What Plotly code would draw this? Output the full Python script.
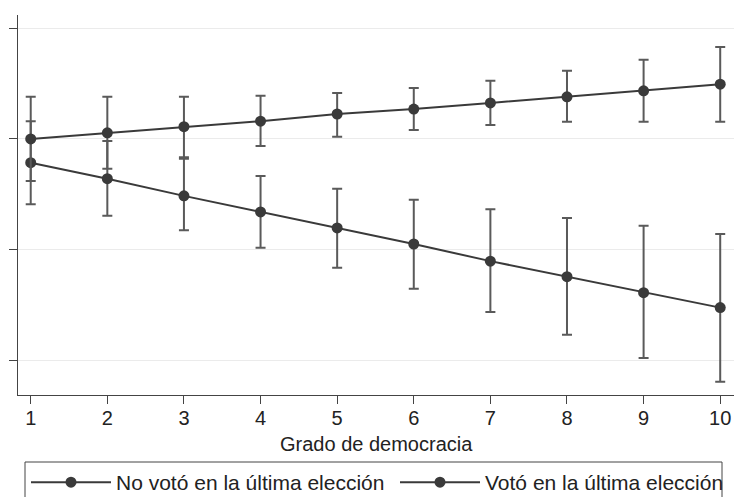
import plotly.graph_objects as go

grado = [1, 2, 3, 4, 5, 6, 7, 8, 9, 10]

# No votó en la última elección
no_voto = [0.557, 0.528, 0.497, 0.468, 0.439, 0.410, 0.379, 0.351, 0.322, 0.295]
no_voto_lo = [0.482, 0.461, 0.435, 0.403, 0.367, 0.329, 0.287, 0.246, 0.204, 0.161]
no_voto_hi = [0.632, 0.596, 0.564, 0.533, 0.510, 0.490, 0.473, 0.457, 0.443, 0.428]

# Votó en la última elección
voto = [0.600, 0.611, 0.622, 0.632, 0.645, 0.654, 0.665, 0.676, 0.687, 0.699]
voto_lo = [0.524, 0.546, 0.567, 0.587, 0.604, 0.616, 0.625, 0.631, 0.631, 0.631]
voto_hi = [0.676, 0.676, 0.676, 0.678, 0.683, 0.692, 0.705, 0.723, 0.743, 0.766]

y_ticks = [0.2, 0.4, 0.6, 0.8]

LINE = "#3a3a3a"
ERR = "#5a5a5a"
FONT = "Liberation Sans, Arial, sans-serif"
TXT = "#222"


def trace(name, vals, lo, hi, legend):
    return go.Scatter(
        x=grado, y=vals, name=name, mode="lines+markers", legend=legend,
        line=dict(color=LINE, width=2),
        marker=dict(color=LINE, size=11),
        error_y=dict(type="data", symmetric=False,
                     array=[h - v for h, v in zip(hi, vals)],
                     arrayminus=[v - l for v, l in zip(vals, lo)],
                     color=ERR, thickness=2, width=5),
    )


fig = go.Figure()
fig.add_trace(trace("No votó en la última elección", no_voto, no_voto_lo, no_voto_hi, "legend"))
fig.add_trace(trace("Votó en la última elección", voto, voto_lo, voto_hi, "legend2"))

W, H = 734, 497
ML, MR, MT, MB = 18, 0, 15, 497 - 395
pw, ph = W - ML - MR, H - MT - MB


def px(sx):  # page x -> paper x
    return (sx - ML) / pw


def py(sy):  # page y -> paper y
    return (H - MB - sy) / ph


leg_common = dict(
    orientation="h", xref="container", yref="container",
    xanchor="left", yanchor="top", borderwidth=0, itemwidth=80,
    bgcolor="rgba(0,0,0,0)",
    font=dict(family=FONT, size=21, color=TXT),
)

fig.update_layout(
    width=W, height=H,
    margin=dict(l=ML, r=MR, t=MT, b=MB),
    paper_bgcolor="white", plot_bgcolor="white",
    font=dict(family=FONT, size=20, color=TXT),
    showlegend=True,
    legend=dict(x=26 / W, y=1 - 462 / H, **leg_common),
    legend2=dict(x=395 / W, y=1 - 462 / H, **leg_common),
    xaxis=dict(
        range=[0.834, 10.18], tickmode="array", tickvals=grado,
        ticks="outside", ticklen=8, tickcolor="#444", tickwidth=1,
        showline=True, linecolor="#444", linewidth=1,
        showgrid=False, zeroline=False, automargin=False,
        ticklabelstandoff=-3,
        tickfont=dict(family=FONT, size=20, color=TXT),
    ),
    yaxis=dict(
        range=[0.137, 0.824], tickmode="array", tickvals=y_ticks,
        ticks="outside", ticklen=8, tickcolor="#444", tickwidth=1,
        showticklabels=False, automargin=False,
        showline=True, linecolor="#444", linewidth=1,
        showgrid=True, gridcolor="#ebebeb", gridwidth=1, zeroline=False,
    ),
    annotations=[dict(
        text="Grado de democracia", xref="paper", yref="paper",
        x=0.5, y=py(444), xanchor="center", yanchor="middle",
        showarrow=False, font=dict(family=FONT, size=20, color=TXT),
    )],
    shapes=[dict(
        type="rect", xref="paper", yref="paper",
        x0=px(25), x1=px(722), y0=py(462), y1=py(520),
        line=dict(color="#444", width=1), fillcolor="rgba(0,0,0,0)",
        layer="above",
    )],
)

fig.write_html(
    "out.html",
    config={"displayModeBar": False},
    post_script="document.body.style.margin='0';document.body.style.overflow='hidden';",
)
